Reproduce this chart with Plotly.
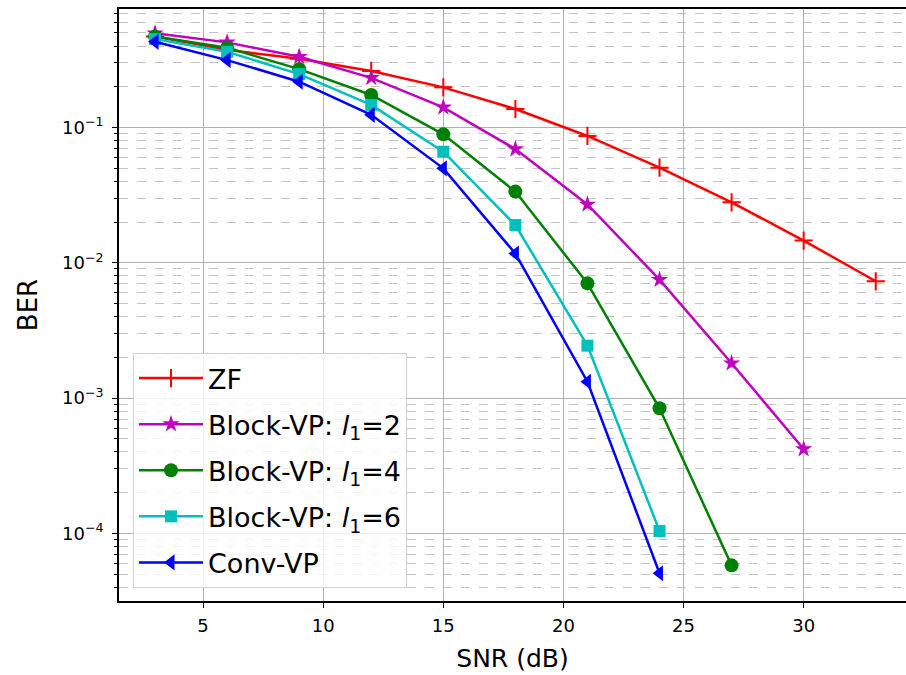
import plotly.graph_objects as go

snr_zf = [3, 6, 9, 12, 15, 18, 21, 24, 27, 30, 33]
ber_zf = [0.47, 0.375, 0.322, 0.262, 0.198, 0.137, 0.0866, 0.0505, 0.028, 0.0146, 0.0073]

snr_l2 = [3, 6, 9, 12, 15, 18, 21, 24, 27, 30]
ber_l2 = [0.497, 0.426, 0.333, 0.233, 0.141, 0.0693, 0.027, 0.0075, 0.00181, 0.00042]

snr_l4 = [3, 6, 9, 12, 15, 18, 21, 24, 27]
ber_l4 = [0.47, 0.389, 0.27, 0.174, 0.089, 0.0336, 0.00705, 0.00084, 5.8e-5]

snr_l6 = [3, 6, 9, 12, 15, 18, 21, 24]
ber_l6 = [0.45, 0.363, 0.248, 0.147, 0.0662, 0.019, 0.00244, 0.000104]

snr_conv = [3, 6, 9, 12, 15, 18, 21, 24]
ber_conv = [0.43, 0.315, 0.218, 0.124, 0.0499, 0.0117, 0.00132, 5.07e-5]

names = ["ZF", "Block-VP: <i>l</i><sub>1</sub>=2", "Block-VP: <i>l</i><sub>1</sub>=4",
         "Block-VP: <i>l</i><sub>1</sub>=6", "Conv-VP"]

x_ticks = [5, 10, 15, 20, 25, 30]
y_ticks = [1e-4, 1e-3, 1e-2, 1e-1]
y_tick_text = ["10<sup>−4</sup>", "10<sup>−3</sup>", "10<sup>−2</sup>", "10<sup>−1</sup>"]

series = [
    (snr_zf, ber_zf, names[0], "#ff0000", "cross-thin", 13),
    (snr_l2, ber_l2, names[1], "#bf00bf", "star", 13),
    (snr_l4, ber_l4, names[2], "#008000", "circle", 14),
    (snr_l6, ber_l6, names[3], "#00bfbf", "square", 12),
    (snr_conv, ber_conv, names[4], "#0000ff", "triangle-left", 14),
]

fig = go.Figure()
for i, (x, y, nm, col, sym, sz) in enumerate(series):
    fig.add_trace(go.Scatter(
        x=x, y=y, name=nm, mode="lines+markers", legendgroup=str(i),
        line=dict(color=col, width=2.5),
        marker=dict(symbol=sym, size=sz, color=col,
                    line=dict(color=col, width=2 if sym == "cross-thin" else 0)),
    ))

minor_vals = [k * 10.0 ** e for e in range(-5, 0) for k in range(2, 10)]

fig.update_layout(
    width=906, height=675,
    margin=dict(l=119, r=0, t=9, b=74),
    plot_bgcolor="white", paper_bgcolor="white",
    font=dict(family="DejaVu Sans", size=18, color="#000000"),
    showlegend=True,
    legend=dict(
        x=0.0178, y=0.022, xanchor="left", yanchor="bottom",
        bgcolor="rgba(255,255,255,0.8)", bordercolor="#d0d0d0", borderwidth=1,
        font=dict(size=27, family="DejaVu Sans"),
        itemwidth=64, tracegroupgap=8,
    ),
    xaxis=dict(
        range=[1.5, 34.26], tickvals=x_ticks, automargin=False,
        showgrid=True, gridcolor="#b0b0b0", gridwidth=1.2,
        showline=True, linecolor="#000000", linewidth=1.6, mirror=True,
        ticks="outside", ticklen=5, tickcolor="#000000",
        ticklabelstandoff=3,
        zeroline=False,
        title=dict(text="SNR (dB)", font=dict(size=25), standoff=14),
    ),
    yaxis=dict(
        type="log", range=[-4.5, -0.124], automargin=False,
        tickvals=y_ticks, ticktext=y_tick_text,
        showgrid=True, gridcolor="#b0b0b0", gridwidth=1.2,
        showline=True, linecolor="#000000", linewidth=1.6, mirror=False,
        ticks="outside", ticklen=5, tickcolor="#000000",
        ticklabelstandoff=5,
        zeroline=False,
        minor=dict(tickmode="array", tickvals=minor_vals, showgrid=True,
                   gridcolor="#c4c4c4", griddash="dash", gridwidth=1,
                   ticks="outside", ticklen=3, tickcolor="#000000"),
        title=dict(text="BER", font=dict(size=26), standoff=17),
    ),
)

fig.write_html(
    "out.html",
    config={"displayModeBar": False},
    post_script="document.body.style.margin='0';document.body.style.overflow='hidden';",
)
